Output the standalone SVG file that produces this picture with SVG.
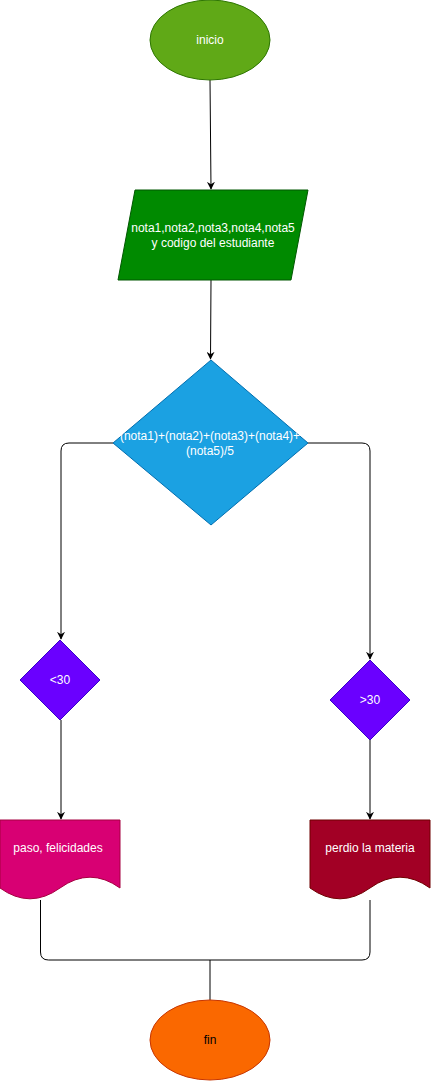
<svg xmlns="http://www.w3.org/2000/svg" width="431" height="1081" viewBox="0 0 431 1081">
<style>
text{font-family:"Liberation Sans",Arial,sans-serif;font-size:12px;text-anchor:middle;dominant-baseline:central;fill:#ffffff}
.edge{fill:none;stroke:#000000;stroke-width:1}
</style>
<defs>
<marker id="arr" viewBox="0 0 10 10" refX="9" refY="5" markerWidth="8" markerHeight="8" markerUnits="userSpaceOnUse" orient="auto">
<path d="M0,0 L10,5 L0,10 L3,5 Z" fill="#000"/>
</marker>
</defs>
<rect width="431" height="1081" fill="#ffffff"/>
<g id="connectors">
<path class="edge" d="M210,80 L211,189" marker-end="url(#arr)"/>
<path class="edge" d="M211,280 L210.5,359" marker-end="url(#arr)"/>
<path class="edge" d="M113,443 L69,443 Q61,443 61,451 L61,639" marker-end="url(#arr)"/>
<path class="edge" d="M308,443 L362,443 Q370,443 370,451 L370,659" marker-end="url(#arr)"/>
<path class="edge" d="M61,720 L61,819" marker-end="url(#arr)"/>
<path class="edge" d="M370,740 L370,819" marker-end="url(#arr)"/>
<path class="edge" d="M40.5,900 L40.5,952 Q40.5,960 48.5,960 L362,960 Q370,960 370,952 L370,900"/>
<path class="edge" d="M210,960 L210,1000"/>
</g>
<g id="inicio">
<ellipse cx="210" cy="40" rx="60" ry="40" fill="#60a917" stroke="#2D7600"/>
<text x="210" y="40">inicio</text>
</g>
<g id="entrada">
<polygon points="135,190 308,190 291,280 118,280" fill="#008a00" stroke="#005700"/>
<text x="213" y="228">nota1,nota2,nota3,nota4,nota5</text>
<text x="213" y="243">y codigo del estudiante</text>
</g>
<g id="calculo">
<polygon points="211,360 308,443 211,525 113,443" fill="#1ba1e2" stroke="#006EAF"/>
<text x="210" y="436">(nota1)+(nota2)+(nota3)+(nota4)+</text>
<text x="210" y="451">(nota5)/5</text>
</g>
<g id="menor30">
<polygon points="60,640 100,680 60,720 20,680" fill="#6a00ff" stroke="#3700CC"/>
<text x="60" y="680">&lt;30</text>
</g>
<g id="mayor30">
<polygon points="370,660 410,700 370,740 330,700" fill="#6a00ff" stroke="#3700CC"/>
<text x="370" y="700">&gt;30</text>
</g>
<g id="paso">
<path d="M0,820 L120,820 L120,888 Q90,866.4 60,888 Q30,909.6 0,888 Z" fill="#d80073" stroke="#A50040"/>
<text x="58" y="848">paso, felicidades</text>
</g>
<g id="perdio">
<path d="M310,820 L430,820 L430,888 Q400,866.4 370,888 Q340,909.6 310,888 Z" fill="#a20025" stroke="#6F0000"/>
<text x="370" y="848">perdio la materia</text>
</g>
<g id="fin">
<ellipse cx="210" cy="1040" rx="60" ry="40" fill="#fa6800" stroke="#C73500"/>
<text x="210" y="1040" style="fill:#000000">fin</text>
</g>
</svg>
